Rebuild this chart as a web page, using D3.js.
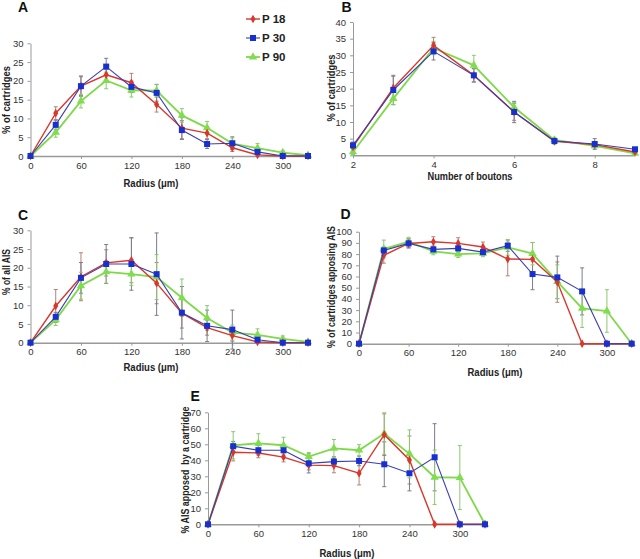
<!DOCTYPE html>
<html>
<head>
<meta charset="utf-8">
<style>
  body { margin: 0; background: #fff; }
  svg { display: block; font-family: "Liberation Sans", Arial, sans-serif; }
  .tick text { font-size: 9.5px; fill: #333; }
  .axis path, .axis line { stroke: #999; }
  .title { font-size: 10px; font-weight: bold; fill: #222; white-space: pre; }
  .letter { font-size: 14px; font-weight: bold; fill: #111; }
  .legend text { font-size: 11.5px; font-weight: bold; fill: #222; }
</style>
</head>
<body>
<svg id="chart" width="640" height="559"></svg>
<script src="https://d3js.org/d3.v7.min.js"></script>
<script>
var radius = [0, 30, 60, 90, 120, 150, 180, 210, 240, 270, 300, 330];
var boutons = [2, 3, 4, 5, 6, 7, 8, 9];
var seriesNames = ["P 18", "P 30", "P 90"];

// A: % of cartridges vs radius
var aP18 = [0, 11.4, 18.6, 21.6, 19.5, 13.7, 7.4, 6.1, 2.2, 0.3, 0, 0];
var aP30 = [0, 8.3, 18.6, 23.8, 18.4, 16.8, 6.9, 3.2, 3.4, 1.1, 0, 0];
var aP90 = [0, 6.3, 14.6, 20.1, 17.5, 17.4, 10.8, 7.5, 3.3, 2.1, 0.9, 0.2];
var aErr18 = [0, 1.7, 2.5, 1.5, 2.5, 2.0, 2.8, 1.5, 1.0, 0.3, 0, 0];
var aErr30 = [0, 1.2, 2.7, 2.2, 1.5, 2.2, 2.5, 1.2, 1.7, 0.7, 0, 0];
var aErr90 = [0, 1.3, 1.8, 2.2, 1.8, 1.7, 1.8, 1.7, 1.5, 1.2, 0.5, 0];

// B: % of cartridges vs number of boutons
var bP18 = [2.5, 20.2, 33.0, 24.0, 13.0, 4.2, 3.2, 1.0];
var bP30 = [3.0, 19.6, 31.2, 24.0, 13.0, 4.3, 3.4, 1.8];
var bP90 = [1.0, 17.0, 32.2, 27.0, 14.4, 4.6, 2.8, 0.6];
var bErr18 = [1.0, 3.5, 2.4, 2.0, 2.5, 0.8, 0.7, 0.3];
var bErr30 = [1.0, 4.4, 2.6, 2.0, 3.2, 0.8, 1.6, 0.3];
var bErr90 = [0.8, 1.8, 2.0, 3.0, 1.4, 0.8, 0.7, 0.3];

// C: % of all AIS vs radius
var cP18 = [0, 9.8, 17.6, 21.3, 22.0, 15.9, 7.9, 4.0, 1.9, 0.2, 0, 0];
var cP30 = [0, 6.9, 17.3, 21.0, 21.0, 18.3, 8.0, 4.5, 3.5, 0.8, 0, 0];
var cP90 = [0, 6.1, 15.2, 18.9, 18.3, 17.5, 12.0, 6.6, 2.7, 2.1, 1.0, 0.2];
var cErr18 = [0, 4.4, 6.4, 3.5, 6.0, 5.5, 4.0, 2.0, 1.5, 0.3, 0, 0];
var cErr30 = [0, 1.2, 4.1, 5.2, 7.0, 11.0, 7.0, 4.2, 5.2, 0.8, 0, 0];
var cErr90 = [0, 1.5, 3.6, 3.0, 3.0, 6.0, 5.0, 3.3, 2.0, 1.6, 0.8, 0];

// D: % of cartridges apposing AIS vs radius
var dP18 = [0, 78.9, 89.5, 91.0, 89.6, 86.3, 75.6, 75.3, 55.0, 0, 0, 0];
var dP30 = [0, 83.3, 89.6, 84.2, 85.1, 81.8, 87.5, 62.2, 59.2, 46.7, 0, 0];
var dP90 = [0, 84.5, 91.0, 82.4, 80.0, 80.7, 86.0, 80.4, 55.4, 31.5, 29.2, 0];
var dErr18 = [0, 7.0, 4.0, 4.5, 5.0, 4.5, 15.0, 15.0, 18.0, 0, 0, 0];
var dErr30 = [0, 3.0, 4.0, 3.0, 3.0, 3.0, 5.0, 14.0, 19.0, 21.0, 0, 0];
var dErr90 = [0, 8.0, 4.0, 3.0, 3.0, 3.0, 7.0, 10.0, 15.0, 17.0, 19.0, 0];

// E: % AIS apposed by a cartridge vs radius
var eP18 = [0, 45.0, 44.6, 42.0, 37.0, 36.7, 31.9, 56.0, 40.2, 0, 0, 0];
var eP30 = [0, 48.8, 46.3, 46.3, 38.1, 39.2, 39.6, 37.5, 31.9, 41.9, 0, 0];
var eP90 = [0, 49.4, 50.6, 49.4, 42.3, 47.5, 46.3, 56.7, 44.0, 29.4, 29.2, 0];
var eErr18 = [0, 5.4, 3.0, 3.0, 3.0, 4.5, 7.3, 13.0, 15.0, 0, 0, 0];
var eErr30 = [0, 3.0, 3.0, 3.0, 6.0, 3.0, 3.0, 14.0, 11.0, 21.0, 0, 0];
var eErr90 = [0, 8.5, 6.0, 5.0, 2.5, 5.5, 3.5, 13.0, 15.0, 17.0, 20.0, 0];

var lineColors = ["#d8372a", "#3a3fb0", "#7ed94a"];
var markColors = ["#d8372a", "#1830d0", "#80dd50"];
var errColors = ["#b58275", "#7a7c90", "#8cc870"];
var lineWidths = [1.4, 1.1, 1.8];
var symbols = [d3.symbolDiamond, d3.symbolSquare, d3.symbolTriangle];
var symSizes = [22, 36, 30];

var svg = d3.select("#chart");

var panels = [
  { letter: "A", xs: radius, series: [aP18, aP30, aP90], errs: [aErr18, aErr30, aErr90],
    xDom: [0, 330], xRange: [30.5, 308], yDom: [0, 30], yRange: [156, 43.3],
    xTicks: [0, 60, 120, 180, 240, 300], yStep: 5,
    yLabel: "% of cartridges", yLabelPos: [6, 100], yLen: 68,
    xLabel: "Radius (\u03bcm)", xLabelPos: [151, 183], xLen: 55,
    letterPos: [18, 12] },
  { letter: "B", xs: boutons, series: [bP18, bP30, bP90], errs: [bErr18, bErr30, bErr90],
    xDom: [2, 9], xRange: [353, 635], yDom: [0, 40], yRange: [155.3, 22],
    xTicks: [2, 4, 6, 8], yStep: 5,
    yLabel: "% of cartridges", yLabelPos: [331, 88], yLen: 67,
    xLabel: "Number of boutons", xLabelPos: [470, 176], xLen: 85,
    letterPos: [341.5, 12] },
  { letter: "C", xs: radius, series: [cP18, cP30, cP90], errs: [cErr18, cErr30, cErr90],
    xDom: [0, 330], xRange: [30.5, 308], yDom: [0, 30], yRange: [342.7, 230.3],
    xTicks: [0, 60, 120, 180, 240, 300], yStep: 5,
    yLabel: "% of all AIS", yLabelPos: [6, 272], yLen: 46,
    xLabel: "Radius (\u03bcm)", xLabelPos: [151, 367], xLen: 55,
    letterPos: [18, 220] },
  { letter: "D", xs: radius, series: [dP18, dP30, dP90], errs: [dErr18, dErr30, dErr90],
    xDom: [0, 330], xRange: [359, 631.7], yDom: [0, 100], yRange: [343.7, 231.7],
    xTicks: [0, 60, 120, 180, 240, 300], yStep: 10,
    yLabel: "% of cartridges apposing AIS", yLabelPos: [331.5, 287], yLen: 122,
    xLabel: "Radius (\u03bcm)", xLabelPos: [495, 372], xLen: 55,
    letterPos: [340.5, 219] },
  { letter: "E", xs: radius, series: [eP18, eP30, eP90], errs: [eErr18, eErr30, eErr90],
    xDom: [0, 330], xRange: [208, 485], yDom: [0, 70], yRange: [524.3, 412.3],
    xTicks: [0, 60, 120, 180, 240, 300], yStep: 10,
    yLabel: "% AIS apposed  by a cartridge", yLabelPos: [185, 470], yLen: 127,
    xLabel: "Radius (\u03bcm)", xLabelPos: [347, 553], xLen: 55,
    letterPos: [190.5, 401] }
];

panels.forEach(function(p) {
  var x = d3.scaleLinear().domain(p.xDom).range(p.xRange);
  var y = d3.scaleLinear().domain(p.yDom).range(p.yRange);
  var g = svg.append("g");

  var yTicks = d3.range(p.yDom[0], p.yDom[1] + 0.001, p.yStep);
  g.append("g").attr("class", "axis")
    .attr("transform", "translate(" + p.xRange[0] + ",0)")
    .call(d3.axisLeft(y).tickValues(yTicks).tickFormat(d3.format("d")).tickSize(3).tickPadding(4).tickSizeOuter(0));

  var xAxis = g.append("g").attr("class", "axis")
    .attr("transform", "translate(0," + p.yRange[0] + ")")
    .call(d3.axisBottom(x).tickValues(p.xTicks).tickFormat(d3.format("d")).tickSize(3).tickPadding(3).tickSizeOuter(0));
  xAxis.select(".domain").attr("stroke-width", 1.5);

  // error bars
  p.series.forEach(function(vals, si) {
    var eg = g.append("g").attr("stroke", errColors[si]).attr("stroke-width", 1);
    vals.forEach(function(v, i) {
      var e = p.errs[si][i];
      if (!e) return;
      var cx = x(p.xs[i]);
      eg.append("line").attr("x1", cx).attr("x2", cx).attr("y1", y(v - e)).attr("y2", y(v + e));
      eg.append("line").attr("x1", cx - 2).attr("x2", cx + 2).attr("y1", y(v + e)).attr("y2", y(v + e));
      eg.append("line").attr("x1", cx - 2).attr("x2", cx + 2).attr("y1", y(v - e)).attr("y2", y(v - e));
    });
  });

  var line = d3.line()
    .x(function(d, i) { return x(p.xs[i]); })
    .y(function(d) { return y(d); });

  [2, 0, 1].forEach(function(si) {
    var vals = p.series[si];
    g.append("path").datum(vals)
      .attr("d", line)
      .attr("fill", "none")
      .attr("stroke", lineColors[si])
      .attr("stroke-width", lineWidths[si]);
    g.selectAll(".m" + si).data(vals).enter().append("path")
      .attr("transform", function(d, i) { return "translate(" + x(p.xs[i]) + "," + y(d) + ")"; })
      .attr("d", d3.symbol().type(symbols[si]).size(symSizes[si]))
      .attr("fill", markColors[si]);
  });

  g.append("text").attr("class", "title")
    .attr("transform", "translate(" + p.xLabelPos[0] + "," + p.xLabelPos[1] + ")")
    .attr("text-anchor", "middle")
    .attr("dominant-baseline", "central")
    .attr("textLength", p.xLen)
    .attr("lengthAdjust", "spacingAndGlyphs")
    .text(p.xLabel);
  g.append("text").attr("class", "title")
    .attr("transform", "translate(" + p.yLabelPos[0] + "," + p.yLabelPos[1] + ") rotate(-90)")
    .attr("text-anchor", "middle")
    .attr("dominant-baseline", "central")
    .attr("textLength", p.yLen)
    .attr("lengthAdjust", "spacingAndGlyphs")
    .text(p.yLabel);
  g.append("text").attr("class", "letter")
    .attr("x", p.letterPos[0]).attr("y", p.letterPos[1])
    .text(p.letter);
});

// legend
var legend = svg.append("g").attr("class", "legend");
seriesNames.forEach(function(name, si) {
  var ly = 19 + si * 19;
  legend.append("line").attr("x1", 246).attr("x2", 260).attr("y1", ly).attr("y2", ly)
    .attr("stroke", lineColors[si]).attr("stroke-width", lineWidths[si]);
  legend.append("path").attr("transform", "translate(253," + ly + ")")
    .attr("d", d3.symbol().type(symbols[si]).size(symSizes[si]))
    .attr("fill", markColors[si]);
  legend.append("text").attr("x", 262).attr("y", ly + 4).text(name);
});
</script>
</body>
</html>
